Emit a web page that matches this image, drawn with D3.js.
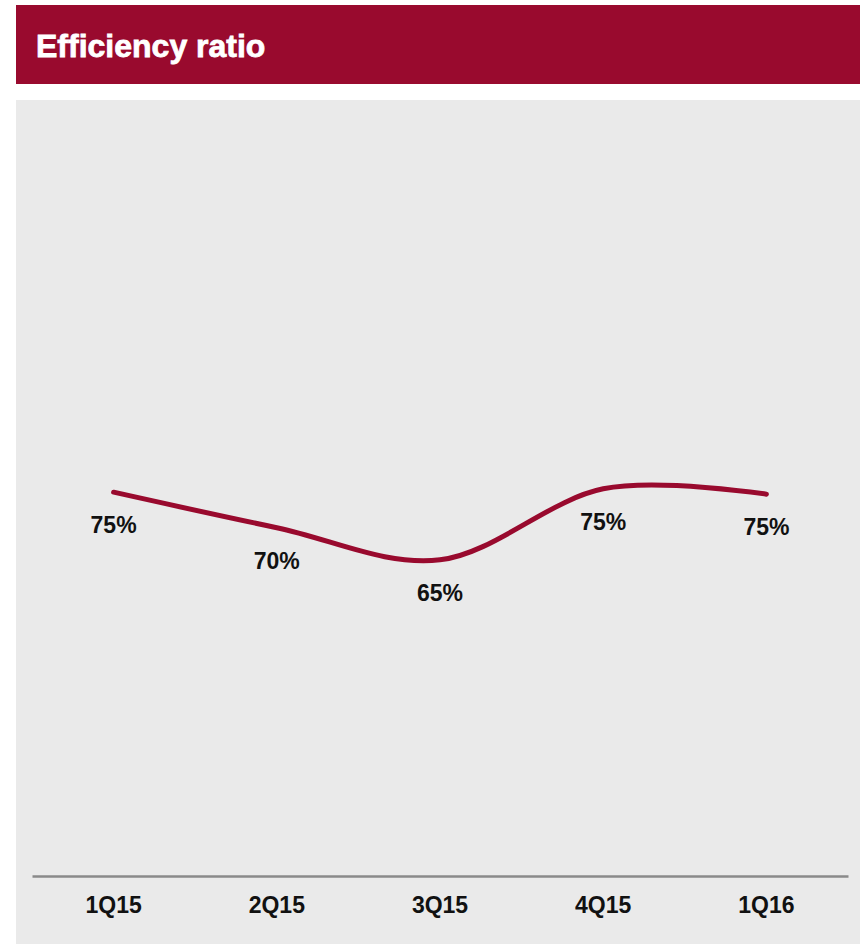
<!DOCTYPE html>
<html>
<head>
<meta charset="utf-8">
<script src="https://cdn.jsdelivr.net/npm/d3@7"></script>
<style>
  body { margin: 0; background: #ffffff; }
  svg { display: block; font-family: "Liberation Sans", Arial, sans-serif; }
</style>
</head>
<body>
<script>
// datos del grafico
var trimestres = ["1Q15", "2Q15", "3Q15", "4Q15", "1Q16"];
var ratio = [74.9, 69.6, 64.8, 75.4, 74.6];
var titulo = "Efficiency ratio";

var w = 860, h = 944;
var rojo = "#990a2e";

var svg = d3.select("body").append("svg")
    .attr("width", w)
    .attr("height", h);

// cabecera
svg.append("rect")
    .attr("x", 16).attr("y", 5)
    .attr("width", w - 16).attr("height", 79)
    .attr("fill", rojo);

svg.append("text")
    .attr("x", 36).attr("y", 57)
    .attr("fill", "#fff")
    .attr("stroke", "#fff")
    .attr("stroke-width", 0.8)
    .style("font-size", "32px")
    .style("font-weight", "bold")
    .text(titulo);

// panel gris
svg.append("rect")
    .attr("x", 16).attr("y", 100)
    .attr("width", w - 16).attr("height", h - 100)
    .attr("fill", "#eaeaea");

var x = d3.scaleBand()
    .domain(trimestres)
    .range([32, 848]);

var y = d3.scaleLinear()
    .domain([60, 80])
    .range([592, 458]);

// eje
var eje = svg.append("g")
    .attr("transform", "translate(0,876)")
    .call(d3.axisBottom(x).tickSize(0).tickSizeOuter(0));

eje.select(".domain")
    .attr("stroke", "#8a8a8a")
    .attr("stroke-width", 2.5);

eje.selectAll("text")
    .attr("y", 37)
    .attr("dy", 0)
    .attr("fill", "#111")
    .style("font-family", "'Liberation Sans', Arial, sans-serif")
    .style("font-size", "23px")
    .style("font-weight", "bold");

// linea suavizada
var linea = d3.line()
    .x(function (d, i) { return x(trimestres[i]) + x.bandwidth() / 2; })
    .y(function (d) { return y(d); })
    .curve(d3.curveCardinal.tension(0));

svg.append("path")
    .datum(ratio)
    .attr("d", linea)
    .attr("fill", "none")
    .attr("stroke", rojo)
    .attr("stroke-width", 5)
    .attr("stroke-linecap", "round");

// etiquetas
var fmt = d3.format(".0%");
svg.selectAll(".etiqueta")
    .data(ratio)
    .enter()
    .append("text")
    .attr("class", "etiqueta")
    .attr("x", function (d, i) { return x(trimestres[i]) + x.bandwidth() / 2; })
    .attr("y", function (d) { return y(d) + 41; })
    .attr("text-anchor", "middle")
    .attr("fill", "#111")
    .style("font-size", "23px")
    .style("font-weight", "bold")
    .text(function (d) { return fmt(d / 100); });
</script>
</body>
</html>
